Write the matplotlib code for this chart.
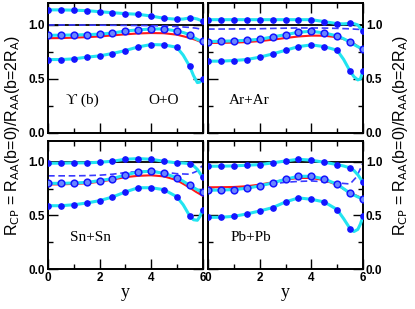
import numpy as np
import matplotlib
matplotlib.use("Agg")
import matplotlib.pyplot as plt
from matplotlib.ticker import MultipleLocator

# ---------------- data ----------------
y_pts = [0, 0.5, 1, 1.5, 2, 2.5, 3, 3.5, 4, 4.5, 5, 5.5, 6]
y_tail = [5.25, 5.65, 5.8, 5.9]          # extra knots of the smooth curves near the end
y_flat = [0, 0.5, 1, 1.5, 2, 2.5, 3, 3.5, 4, 4.5, 5, 5.5, 5.75, 6]

systems = ["O+O", "Ar+Ar", "Sn+Sn", "Pb+Pb"]

# O+O
oo_top = [1.14, 1.14, 1.137, 1.133, 1.123, 1.114, 1.105, 1.099, 1.083, 1.062, 1.053, 1.065, 1.034]
oo_top_tail = [1.055, 1.063, 1.055, 1.045]
oo_mid = [0.904, 0.905, 0.907, 0.91, 0.915, 0.925, 0.944, 0.954, 0.963, 0.963, 0.944, 0.91, 0.847]
oo_mid_tail = [0.93, 0.885, 0.865, 0.855]
oo_low = [0.679, 0.679, 0.685, 0.701, 0.713, 0.735, 0.762, 0.796, 0.818, 0.815, 0.793, 0.617, 0.5]
oo_low_tail = [0.72, 0.53, 0.465, 0.47]
oo_red = [0.877, 0.878, 0.882, 0.887, 0.893, 0.903, 0.913, 0.921, 0.925, 0.923, 0.91, 0.88, 0.86, 0.836]
oo_dash = [1.0, 1.0, 1.0, 0.999, 0.998, 0.997, 0.996, 0.995, 0.994, 0.99, 0.985, 0.977, 0.97, 0.958]

# Ar+Ar
ar_top = [1.049, 1.049, 1.049, 1.049, 1.049, 1.049, 1.049, 1.049, 1.049, 1.031, 1.012, 1.015, 0.941]
ar_top_tail = [1.01, 1.012, 1.0, 0.97]
ar_mid = [0.846, 0.849, 0.852, 0.858, 0.867, 0.889, 0.91, 0.932, 0.941, 0.926, 0.898, 0.84, 0.778]
ar_mid_tail = [0.872, 0.818, 0.798, 0.787]
ar_low = [0.664, 0.664, 0.67, 0.679, 0.701, 0.731, 0.765, 0.799, 0.815, 0.799, 0.765, 0.571, 0.574]
ar_low_tail = [0.68, 0.52, 0.49, 0.5]
ar_red = [0.833, 0.834, 0.836, 0.841, 0.85, 0.863, 0.879, 0.893, 0.901, 0.9, 0.886, 0.85, 0.81, 0.76]
ar_dash = [0.962, 0.962, 0.963, 0.964, 0.965, 0.968, 0.97, 0.972, 0.972, 0.971, 0.968, 0.964, 0.96, 0.957]

# Sn+Sn
sn_top = [0.988, 0.988, 0.991, 0.991, 0.997, 1.006, 1.025, 1.031, 1.025, 1.006, 0.991, 0.984, 0.859]
sn_top_tail = [0.99, 0.965, 0.93, 0.895]
sn_mid = [0.8, 0.8, 0.803, 0.809, 0.825, 0.844, 0.878, 0.906, 0.913, 0.894, 0.853, 0.781, 0.719]
sn_mid_tail = [0.82, 0.76, 0.74, 0.728]
sn_low = [0.591, 0.591, 0.6, 0.616, 0.638, 0.672, 0.719, 0.759, 0.759, 0.741, 0.675, 0.497, 0.553]
sn_low_tail = [0.6, 0.46, 0.455, 0.49]
sn_red = [0.79, 0.79, 0.795, 0.8, 0.815, 0.835, 0.858, 0.87, 0.875, 0.865, 0.83, 0.76, 0.72, 0.685]
sn_dash = [0.87, 0.87, 0.87, 0.872, 0.876, 0.885, 0.9, 0.91, 0.912, 0.905, 0.89, 0.885, 0.91, 0.965]

# Pb+Pb
pb_top = [0.96, 0.96, 0.963, 0.969, 0.975, 0.991, 1.009, 1.025, 1.016, 0.997, 0.975, 0.944, 0.81]
pb_top_tail = [0.962, 0.92, 0.88, 0.845]
pb_mid = [0.735, 0.738, 0.741, 0.754, 0.776, 0.804, 0.838, 0.866, 0.866, 0.841, 0.791, 0.707, 0.657]
pb_mid_tail = [0.75, 0.69, 0.673, 0.663]
pb_low = [0.483, 0.483, 0.492, 0.514, 0.542, 0.573, 0.626, 0.664, 0.651, 0.626, 0.555, 0.377, 0.492]
pb_low_tail = [0.47, 0.35, 0.37, 0.42]
pb_red = [0.763, 0.764, 0.766, 0.773, 0.788, 0.81, 0.835, 0.85, 0.85, 0.83, 0.785, 0.71, 0.685, 0.655]
pb_dash = [0.741, 0.745, 0.752, 0.765, 0.779, 0.795, 0.81, 0.818, 0.822, 0.815, 0.804, 0.794, 0.86, 0.99]

panel_data = {
    "O+O": (oo_top, oo_top_tail, oo_mid, oo_mid_tail, oo_low, oo_low_tail, oo_red, oo_dash),
    "Ar+Ar": (ar_top, ar_top_tail, ar_mid, ar_mid_tail, ar_low, ar_low_tail, ar_red, ar_dash),
    "Sn+Sn": (sn_top, sn_top_tail, sn_mid, sn_mid_tail, sn_low, sn_low_tail, sn_red, sn_dash),
    "Pb+Pb": (pb_top, pb_top_tail, pb_mid, pb_mid_tail, pb_low, pb_low_tail, pb_red, pb_dash),
}
label_pos = {"O+O": (4.5, 0.30), "Ar+Ar": (1.6, 0.30), "Sn+Sn": (1.65, 0.29), "Pb+Pb": (1.65, 0.29)}

# ---------------- style ----------------
CYAN = "#22e4f0"
BLUE = "#1414ff"
RED = "#ff1a1a"
DASH = "#3a3aff"

W, H = 415, 309
fig = plt.figure(figsize=(W / 100, H / 100), dpi=100)

def frac_rect(x0, x1, ytop, ybot):
    return [x0 / W, 1 - ybot / H, (x1 - x0) / W, (ybot - ytop) / H]

rects = [frac_rect(48, 202.5, 3.4, 132.7), frac_rect(208, 363, 3.4, 132.7),
         frac_rect(48, 202.5, 140.5, 269), frac_rect(208, 363, 140.5, 269)]

def smooth_line(vals, tail):
    xs = y_pts[:11] + [y_tail[0]] + [y_pts[11]] + y_tail[1:] + [y_pts[12]]
    ys = vals[:11] + [tail[0]] + [vals[11]] + tail[1:] + [vals[12]]
    return xs, ys

serif = ["Liberation Serif", "DejaVu Serif"]

for i, (name, rect) in enumerate(zip(systems, rects)):
    ax = fig.add_axes(rect)
    top, top_t, mid, mid_t, low, low_t, red, dash = panel_data[name]
    ax.axhline(1.0, color="black", lw=1.3, zorder=1)
    ax.plot(y_flat, dash, color=DASH, lw=1.2, dashes=(4, 2.2), zorder=2)
    ax.plot(y_flat, red, color=RED, lw=1.5, zorder=3)
    for vals, tail in ((top, top_t), (mid, mid_t), (low, low_t)):
        xs, ys = smooth_line(vals, tail)
        ax.plot(xs, ys, color=CYAN, lw=2.2, zorder=4, solid_capstyle="round")
    ax.plot(y_pts, top, "o", ms=3.8, color=BLUE, mec=BLUE, zorder=5)
    ax.plot(y_pts, low, "o", ms=3.8, color=BLUE, mec=BLUE, zorder=5)
    ax.plot(y_pts, mid, "o", ms=4.8, mfc="#6a86ff", mec=BLUE, mew=1.1, zorder=5)

    ax.set_xlim(0, 6)
    ax.set_ylim(0, 1.2)
    ax.xaxis.set_major_locator(MultipleLocator(2))
    ax.xaxis.set_minor_locator(MultipleLocator(1))
    ax.yaxis.set_major_locator(MultipleLocator(0.5))
    ax.yaxis.set_minor_locator(MultipleLocator(0.25))
    ax.tick_params(which="both", direction="in", top=True, right=True, left=True, bottom=True,
                   width=1.0, pad=2)
    ax.tick_params(which="major", length=7)
    ax.tick_params(which="minor", length=3.5)
    for sp in ax.spines.values():
        sp.set_linewidth(1.4)
    row, col = divmod(i, 2)
    if row == 0:
        ax.set_xticklabels([])
    else:
        ax.set_xticks([0, 2, 4, 6])
        ax.set_xticklabels(["0", "2", "4", "6"])
        ax.set_xlabel("y", family=serif, size=13, labelpad=0)
    ax.set_yticks([0, 0.5, 1.0])
    ax.set_yticklabels(["0.0", "0.5", "1.0"])
    if col == 1:
        ax.tick_params(axis="y", which="both", labelleft=False, labelright=True)
    for lab in ax.get_xticklabels() + ax.get_yticklabels():
        lab.set_fontfamily("Liberation Sans")
        lab.set_fontweight("bold")
        lab.set_fontsize(8.5)
    lx, ly = label_pos[name]
    ax.text(lx, ly, name, family=serif, size=11, ha="center", va="center")
    if name == "O+O":
        ax.text(1.35, 0.30, "\u03d2 (b)", family=serif, size=11, ha="center", va="center")

ylab = "R$_{\\rm CP}$ = R$_{\\rm AA}$(b=0)/R$_{\\rm AA}$(b=2R$_{\\rm A}$)"
for xf in (0.030, 0.965):
    fig.text(xf, 1 - 136 / H, ylab, rotation=90, ha="center", va="center",
             family="Liberation Sans", size=11.5)

fig.savefig("out.png", dpi=100)
